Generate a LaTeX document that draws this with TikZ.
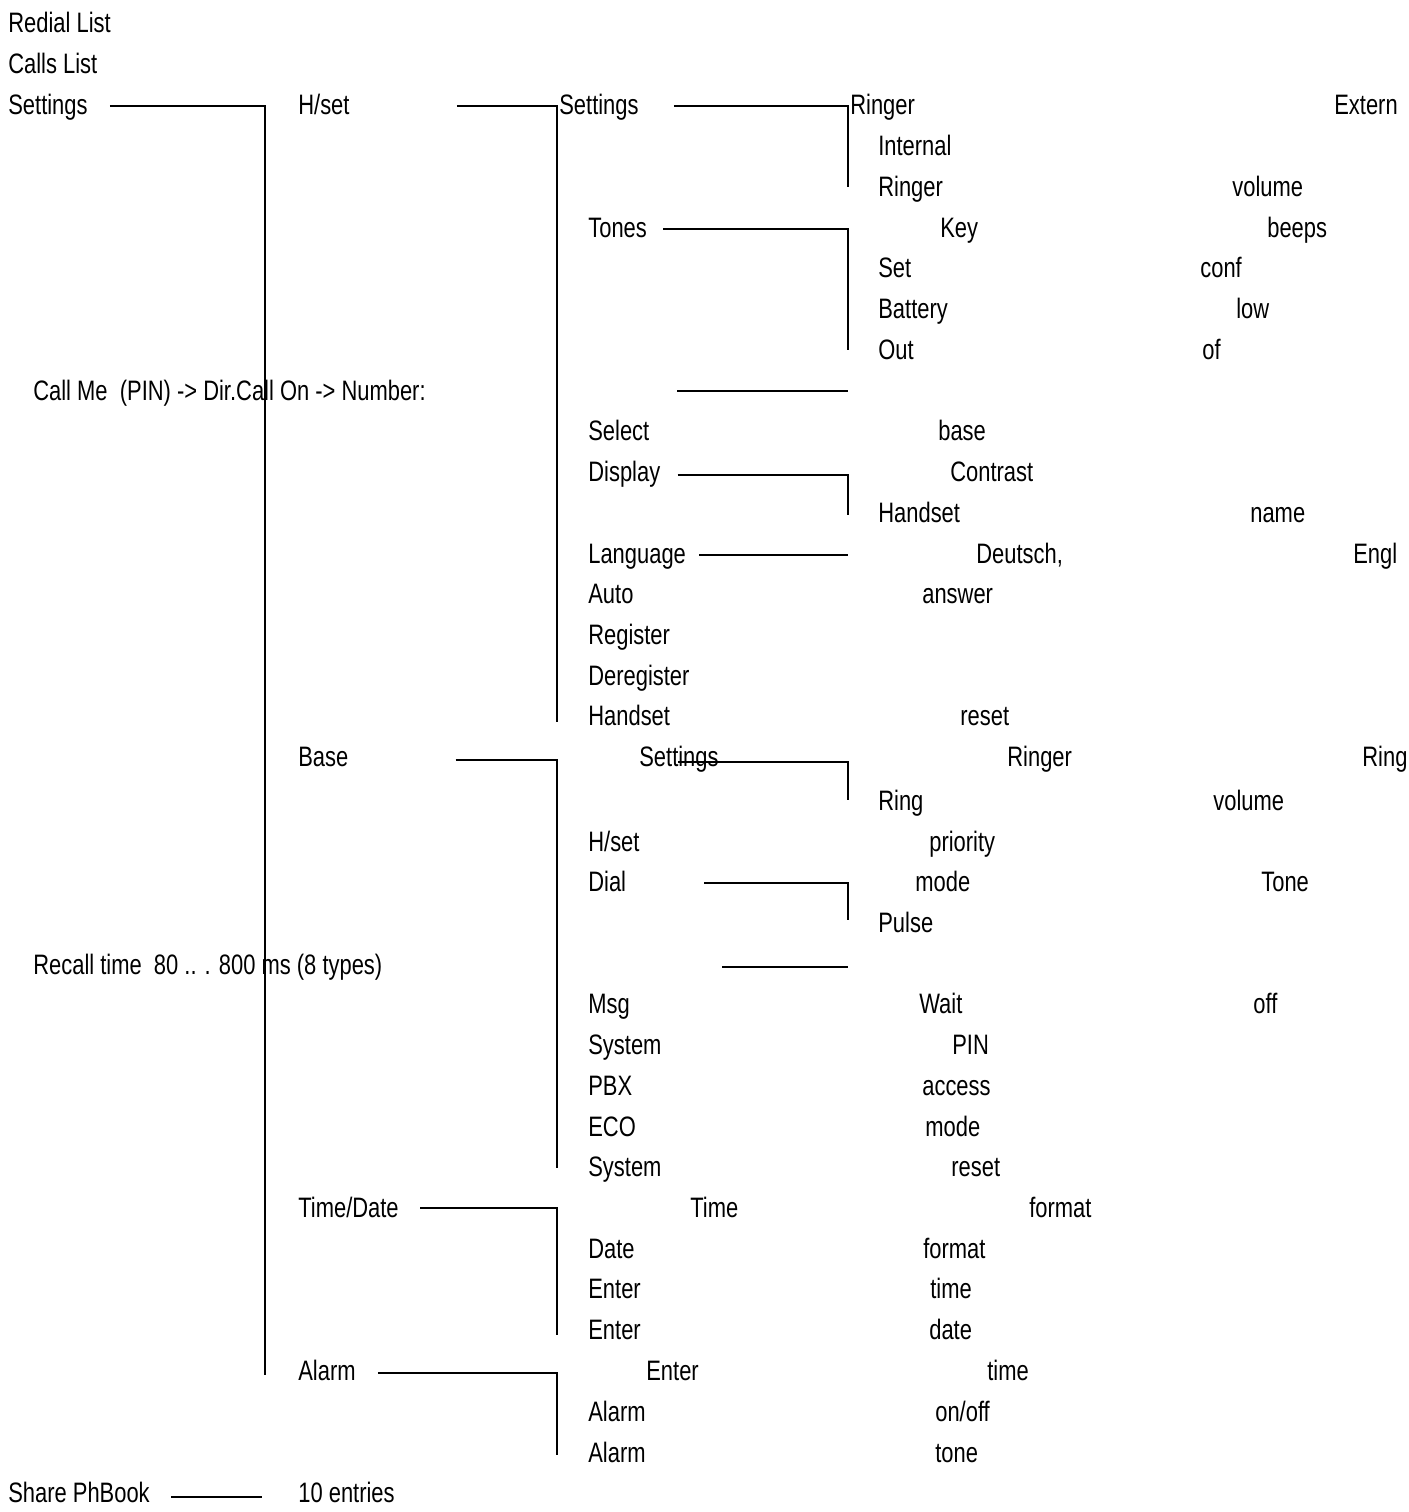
\documentclass[tikz,border=0pt]{standalone}
\usepackage{fontspec}
\setmainfont[FakeStretch=0.78]{Liberation Sans}
\begin{document}
\begin{tikzpicture}[x=0.02cm, y=-0.02cm,
  lbl/.style={anchor=base west, inner sep=0pt, yshift=-0.16cm, font=\fontsize{16}{18}\selectfont},
  wire/.style={draw, line width=0.9pt},
  heavy/.style={draw, line width=1.6pt}]
  \useasboundingbox (0,0) rectangle (1409,1512);
  \clip (0,0) rectangle (1409,1512);
  % Nodes: level 0
  \node (redial) [lbl] at (8,24) {Redial List};
  \node (calls) [lbl] at (8,65) {Calls List};
  \node (settings) [lbl] at (8,106) {Settings};
  \node (callme) [lbl] at (33,392) {Call Me\ \ (PIN) -> Dir.Call On -> Number:};
  \node (recall) [lbl] at (33,966) {Recall time\ \ 80 .. . 800 ms (8 types)};
  \node (share) [lbl] at (8,1494) {Share PhBook};
  % Nodes: level 1
  \node (hset) [lbl] at (298,106) {H/set};
  \node (base) [lbl] at (298,758) {Base};
  \node (timedate) [lbl] at (298,1209) {Time/Date};
  \node (alarm) [lbl] at (298,1372) {Alarm};
  \node (entries) [lbl] at (298,1494) {10 entries};
  % Nodes: handset menu
  \node (h-set) [lbl] at (559,106) {Settings};
  \node (h-ringer) [lbl] at (850,106) {Ringer};
  \node (h-extern) [lbl] at (1334,106) {Extern};
  \node (h-internal) [lbl] at (878,147) {Internal};
  \node (h-ringer2) [lbl] at (878,188) {Ringer};
  \node (h-volume) [lbl] at (1232,188) {volume};
  \node (h-tones) [lbl] at (588,229) {Tones};
  \node (h-key) [lbl] at (940,229) {Key};
  \node (h-beeps) [lbl] at (1267,229) {beeps};
  \node (h-setc) [lbl] at (878,269) {Set};
  \node (h-conf) [lbl] at (1200,269) {conf};
  \node (h-battery) [lbl] at (878,310) {Battery};
  \node (h-low) [lbl] at (1236,310) {low};
  \node (h-out) [lbl] at (878,351) {Out};
  \node (h-of) [lbl] at (1202,351) {of};
  \node (h-select) [lbl] at (588,432) {Select};
  \node (h-base) [lbl] at (938,432) {base};
  \node (h-display) [lbl] at (588,473) {Display};
  \node (h-contrast) [lbl] at (950,473) {Contrast};
  \node (h-handset) [lbl] at (878,514) {Handset};
  \node (h-name) [lbl] at (1250,514) {name};
  \node (h-language) [lbl] at (588,555) {Language};
  \node (h-deutsch) [lbl] at (976,555) {Deutsch,};
  \node (h-engl) [lbl] at (1353,555) {Engl};
  \node (h-auto) [lbl] at (588,595) {Auto};
  \node (h-answer) [lbl] at (922,595) {answer};
  \node (h-register) [lbl] at (588,636) {Register};
  \node (h-dereg) [lbl] at (588,677) {Deregister};
  \node (h-hreset) [lbl] at (588,717) {Handset};
  \node (h-reset) [lbl] at (960,717) {reset};
  % Nodes: base menu
  \node (b-set) [lbl] at (639,758) {Settings};
  \node (b-ringer) [lbl] at (1007,758) {Ringer};
  \node (b-ring) [lbl] at (1362,758) {Ring};
  \node (b-ring2) [lbl] at (878,802) {Ring};
  \node (b-volume) [lbl] at (1213,802) {volume};
  \node (b-hset) [lbl] at (588,843) {H/set};
  \node (b-priority) [lbl] at (929,843) {priority};
  \node (b-dial) [lbl] at (588,883) {Dial};
  \node (b-mode) [lbl] at (915,883) {mode};
  \node (b-tone) [lbl] at (1261,883) {Tone};
  \node (b-pulse) [lbl] at (878,924) {Pulse};
  \node (b-msg) [lbl] at (588,1005) {Msg};
  \node (b-wait) [lbl] at (919,1005) {Wait};
  \node (b-off) [lbl] at (1253,1005) {off};
  \node (b-system) [lbl] at (588,1046) {System};
  \node (b-pin) [lbl] at (952,1046) {PIN};
  \node (b-pbx) [lbl] at (588,1087) {PBX};
  \node (b-access) [lbl] at (922,1087) {access};
  \node (b-eco) [lbl] at (588,1128) {ECO};
  \node (b-ecomode) [lbl] at (925,1128) {mode};
  \node (b-system2) [lbl] at (588,1168) {System};
  \node (b-reset) [lbl] at (951,1168) {reset};
  % Nodes: time/date and alarm
  \node (t-time) [lbl] at (690,1209) {Time};
  \node (t-format) [lbl] at (1029,1209) {format};
  \node (t-date) [lbl] at (588,1250) {Date};
  \node (t-dformat) [lbl] at (923,1250) {format};
  \node (t-enter) [lbl] at (588,1290) {Enter};
  \node (t-etime) [lbl] at (930,1290) {time};
  \node (t-enter2) [lbl] at (588,1331) {Enter};
  \node (t-edate) [lbl] at (929,1331) {date};
  \node (a-enter) [lbl] at (646,1372) {Enter};
  \node (a-time) [lbl] at (987,1372) {time};
  \node (a-alarm) [lbl] at (588,1413) {Alarm};
  \node (a-onoff) [lbl] at (935,1413) {on/off};
  \node (a-alarm2) [lbl] at (588,1454) {Alarm};
  \node (a-tone) [lbl] at (935,1454) {tone};
  % Line ends
  \coordinate (j0) at (265,106);
  \coordinate (j0e) at (265,1375);
  \coordinate (j1) at (557,106);
  \coordinate (j1e) at (557,722);
  \coordinate (j2) at (848,106);
  \coordinate (j2e) at (848,187);
  \coordinate (j3) at (848,229);
  \coordinate (j3e) at (848,350);
  \coordinate (k1) at (677,391);
  \coordinate (k1e) at (848,391);
  \coordinate (j4) at (848,475);
  \coordinate (j4e) at (848,515);
  \coordinate (k2) at (848,555);
  \coordinate (j5) at (557,760);
  \coordinate (j5e) at (557,1168);
  \coordinate (j6s) at (678,762);
  \coordinate (j6) at (848,762);
  \coordinate (j6e) at (848,800);
  \coordinate (j7) at (848,883);
  \coordinate (j7e) at (848,920);
  \coordinate (k3) at (722,967);
  \coordinate (k3e) at (848,967);
  \coordinate (j8) at (557,1208);
  \coordinate (j8e) at (557,1335);
  \coordinate (j9) at (557,1373);
  \coordinate (j9e) at (557,1455);
  \coordinate (k4) at (262,1497);
  % Lines
  \draw[wire] (j0 -| settings.east) ++(22,0) -- (j0) -- (j0e);
  \draw[wire] (j1 -| hset.east) ++(107,0) -- (j1) -- (j1e);
  \draw[wire] (j2 -| h-set.east) ++(35,0) -- (j2) -- (j2e);
  \draw[heavy] (j3 -| h-tones.east) ++(16,0) -- (j3) -- (j3e);
  \draw[wire] (k1) -- (k1e);
  \draw[wire] (j4 -| h-display.east) ++(17,0) -- (j4) -- (j4e);
  \draw[wire] (k2 -| h-language.east) ++(13,0) -- (k2);
  \draw[wire] (j5 -| base.east) ++(107,0) -- (j5) -- (j5e);
  \draw[wire] (j6s) -- (j6) -- (j6e);
  \draw[heavy] (j7 -| b-dial.east) ++(78,0) -- (j7) -- (j7e);
  \draw[wire] (k3) -- (k3e);
  \draw[wire] (j8 -| timedate.east) ++(21,0) -- (j8) -- (j8e);
  \draw[wire] (j9 -| alarm.east) ++(22,0) -- (j9) -- (j9e);
  \draw[heavy] (k4 -| share.east) ++(21,0) -- (k4);
\end{tikzpicture}
\end{document}
